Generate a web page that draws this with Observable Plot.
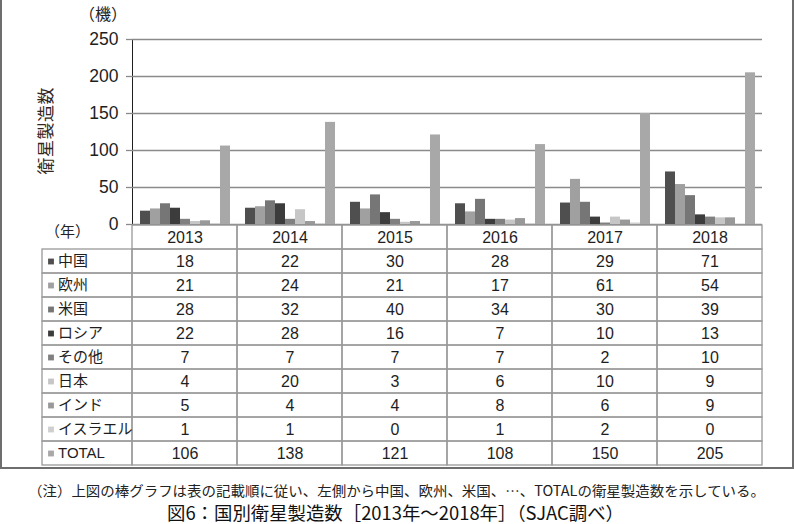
<!DOCTYPE html>
<html>
<head>
<meta charset="utf-8">
<script src="https://cdn.jsdelivr.net/npm/d3@7"></script>
<script src="https://cdn.jsdelivr.net/npm/@observablehq/plot@0.6"></script>
<style>
html, body { margin: 0; padding: 0; background: #fff; }
#wrap { position: relative; width: 794px; height: 524px; overflow: hidden; background: #fff;
  font-family: "Liberation Sans", Arial, "Noto Sans CJK JP", sans-serif; }
#frame { position: absolute; left: 0; top: -10px; width: 794px; height: 479px; box-sizing: border-box;
  border: 2px solid #6e6e6e; }
#chart, #table, #overlay { position: absolute; left: 0; }
#chart { top: 0; }
#table { top: 220px; }
#overlay { top: 0; pointer-events: none; }
#chart g[aria-label^="y-axis"] line, #chart g[aria-label^="y-axis"] path {
  stroke: #8a8a8a !important; stroke-width: 1.3px !important; stroke-opacity: 1 !important; }
#chart g[aria-label^="y-axis"] text { font-size: 17.5px !important; fill: #1e1e1e !important; }
</style>
</head>
<body>
<div id="wrap">
  <div id="frame"></div>
  <div id="chart"></div>
  <div id="table"></div>
  <svg id="overlay" width="794" height="524"></svg>
</div>
<script>
// ---- data ----
const years = ["2013", "2014", "2015", "2016", "2017", "2018"];
const series = ["中国", "欧州", "米国", "ロシア", "その他", "日本", "インド", "イスラエル", "TOTAL"];
const china   = [18, 22, 30, 28, 29, 71];
const europe  = [21, 24, 21, 17, 61, 54];
const usa     = [28, 32, 40, 34, 30, 39];
const russia  = [22, 28, 16, 7, 10, 13];
const others  = [7, 7, 7, 7, 2, 10];
const japan   = [4, 20, 3, 6, 10, 9];
const india   = [5, 4, 4, 8, 6, 9];
const israel  = [1, 1, 0, 1, 2, 0];
const total   = [106, 138, 121, 108, 150, 205];
const yTicks = [0, 50, 100, 150, 200, 250];
const colors = ["#4f4f4f", "#a0a0a0", "#767676", "#3c3c3c", "#808080", "#c6c6c6", "#999999", "#cfcfcf", "#a8a8a8"];
const yUnit = "（機）";
const yTitle = "衛星製造数";
const yearUnit = "（年）";
const note = "（注）上図の棒グラフは表の記載順に従い、左側から中国、欧州、米国、…、TOTALの衛星製造数を示している。";
const title = "図6：国別衛星製造数［2013年～2018年］（SJAC調べ）";

const valuesBySeries = [china, europe, usa, russia, others, japan, india, israel, total];
const data = series.flatMap((s, si) => years.map((yr, yi) => ({series: s, year: yr, value: valuesBySeries[si][yi]})));

const font = "Liberation Sans, Arial, Noto Sans CJK JP, sans-serif";

// ---- chart ----
const chart = Plot.plot({
  width: 794, height: 230,
  marginLeft: 132, marginRight: 32, marginTop: 39, marginBottom: 6,
  style: {background: "none", overflow: "visible", fontFamily: font, fontSize: "17.5px", color: "#1e1e1e"},
  facet: {data, x: "year"},
  fx: {domain: years, padding: 0, axis: null, label: null},
  x: {domain: series, paddingInner: 0, paddingOuter: 0.75, axis: null},
  y: {domain: [0, 250], ticks: yTicks, tickSize: 6, tickPadding: 8, line: true, label: null},
  color: {domain: series, range: colors},
  marks: [
    Plot.ruleY(yTicks, {stroke: "#8a8a8a", strokeWidth: 1.3}),
    Plot.barY(data, {x: "series", y: "value", fill: "series"})
  ]
});
document.getElementById("chart").appendChild(chart);

// ---- table ----
const headerKey = "年";
const rows = [headerKey, ...series];
const gridCells = rows.flatMap(r => years.map(yr => ({row: r, year: yr})));
const table = Plot.plot({
  width: 794, height: 250,
  marginLeft: 27, marginRight: 32, marginTop: 4, marginBottom: 4,
  style: {background: "none", overflow: "visible", fontFamily: font, fontSize: "16px", color: "#1e1e1e"},
  x: {domain: ["label", ...years], padding: 0, axis: null},
  y: {domain: rows, padding: 0, axis: null},
  color: {domain: series, range: colors},
  marks: [
    Plot.cell(gridCells, {x: "year", y: "row", fill: "none", stroke: "#999", strokeWidth: 1.3, inset: 0}),
    Plot.cell(series, {x: () => "label", y: d => d, fill: "none", stroke: "#999", strokeWidth: 1.3,
      insetLeft: 15, insetRight: 0, insetTop: 0, insetBottom: 0}),
    Plot.text(years, {x: d => d, y: () => headerKey, text: d => d, fontSize: 16, fill: "#1e1e1e"}),
    Plot.text(data, {x: "year", y: "series", text: "value", fontSize: 16, fill: "#1e1e1e"}),
    Plot.dot(series, {x: () => "label", y: d => d, symbol: "square", r: 3.3, fill: d => d, dx: -29}),
    Plot.text(series, {x: () => "label", y: d => d, text: d => d, textAnchor: "start", dx: -22,
      fontSize: 15, fill: "#1e1e1e"})
  ]
});
document.getElementById("table").appendChild(table);

// ---- other texts ----
const ov = d3.select("#overlay");
const jp = "Noto Sans CJK JP, sans-serif";
ov.append("text").attr("x", 103).attr("y", 13).attr("text-anchor", "middle").attr("dominant-baseline", "central")
  .attr("font-family", jp).attr("font-size", 16).attr("fill", "#222").text(yUnit);
ov.append("text").attr("transform", "translate(44,131) rotate(-90)").attr("text-anchor", "middle")
  .attr("dominant-baseline", "central").attr("font-family", jp).attr("font-size", 17).attr("fill", "#33261c")
  .attr("textLength", 87).attr("lengthAdjust", "spacing").text(yTitle);
ov.append("text").attr("x", 67.5).attr("y", 230).attr("text-anchor", "middle").attr("dominant-baseline", "central")
  .attr("font-family", jp).attr("font-size", 15).attr("fill", "#222").text(yearUnit);
ov.append("text").attr("x", 28).attr("y", 490).attr("dominant-baseline", "central")
  .attr("font-family", jp).attr("font-size", 14).attr("fill", "#222")
  .attr("textLength", 737).attr("lengthAdjust", "spacingAndGlyphs").text(note);
ov.append("text").attr("x", 167).attr("y", 512).attr("dominant-baseline", "central")
  .attr("font-family", jp).attr("font-size", 18).attr("fill", "#111")
  .attr("textLength", 457).attr("lengthAdjust", "spacingAndGlyphs").text(title);
</script>
</body>
</html>
